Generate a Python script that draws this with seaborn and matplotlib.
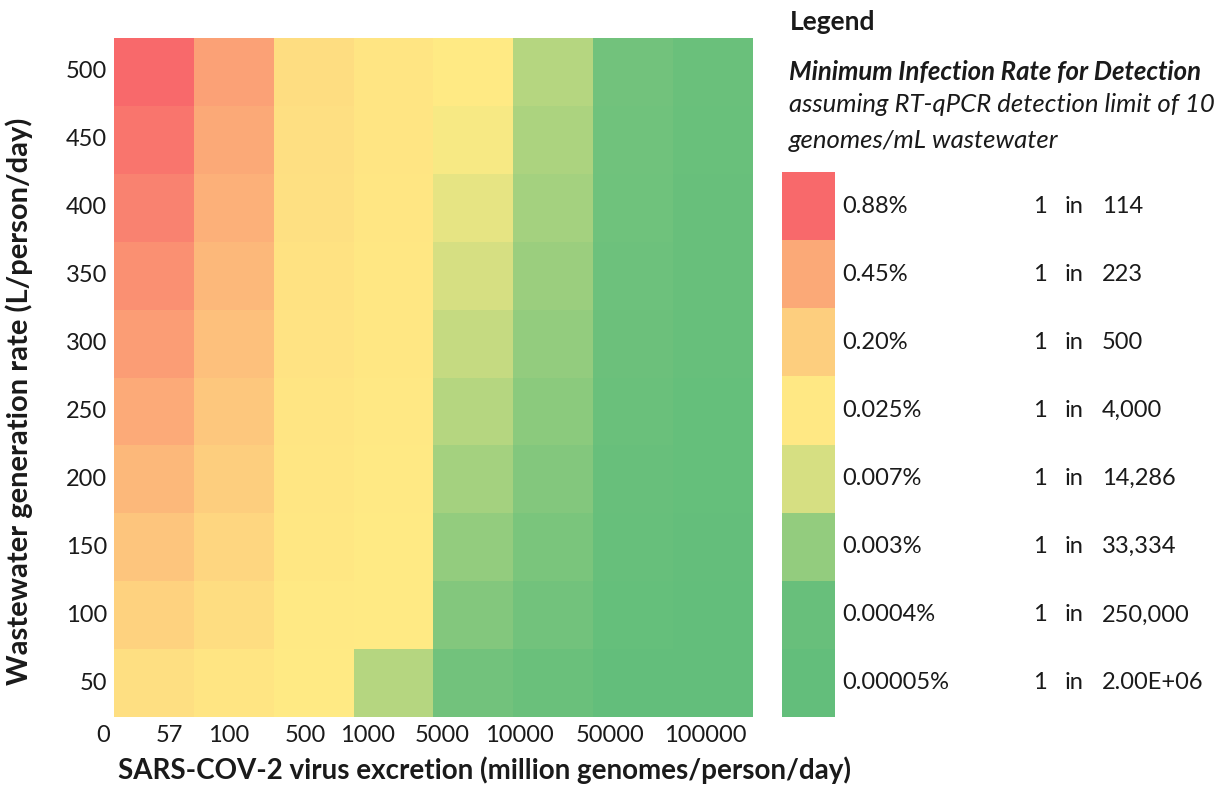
import numpy as np
import pandas as pd
import seaborn as sns
import matplotlib.pyplot as plt
import matplotlib.transforms as mtransforms
from matplotlib.colors import LinearSegmentedColormap, TwoSlopeNorm

# x categories: virus excretion (million genomes/person/day)
excretion = ['57', '100', '500', '1000', '5000', '10000', '50000', '100000']
origin_label = '0'
# y categories: wastewater generation rate (L/person/day)
wastewater = [500, 450, 400, 350, 300, 250, 200, 150, 100, 50]

# minimum infection rate for detection (%), one row per wastewater rate
rate_500 = [0.877, 0.50, 0.10, 0.050, 0.010, 0.0050, 0.0010, 0.00050]
rate_450 = [0.789, 0.45, 0.09, 0.045, 0.009, 0.0045, 0.0009, 0.00045]
rate_400 = [0.702, 0.40, 0.08, 0.040, 0.008, 0.0040, 0.0008, 0.00040]
rate_350 = [0.614, 0.35, 0.07, 0.035, 0.007, 0.0035, 0.0007, 0.00035]
rate_300 = [0.526, 0.30, 0.06, 0.030, 0.006, 0.0030, 0.0006, 0.00030]
rate_250 = [0.439, 0.25, 0.05, 0.025, 0.005, 0.0025, 0.0005, 0.00025]
rate_200 = [0.351, 0.20, 0.04, 0.020, 0.004, 0.0020, 0.0004, 0.00020]
rate_150 = [0.263, 0.15, 0.03, 0.015, 0.003, 0.0015, 0.0003, 0.00015]
rate_100 = [0.175, 0.10, 0.02, 0.010, 0.002, 0.0010, 0.0002, 0.00010]
rate_50 = [0.088, 0.05, 0.01, 0.005, 0.001, 0.0005, 0.0001, 0.00005]

# legend entries
legend_pct = [0.88, 0.45, 0.20, 0.025, 0.007, 0.003, 0.0004, 0.00005]
legend_pct_labels = ['0.88%', '0.45%', '0.20%', '0.025%', '0.007%', '0.003%', '0.0004%', '0.00005%']
legend_one_in = ['114', '223', '500', '4,000', '14,286', '33,334', '250,000', '2.00E+06']

sns.set_theme(style='white')
plt.rcParams['font.family'] = ['Lato', 'DejaVu Sans']
text_color = '#1a1a1a'

df = pd.DataFrame([rate_500, rate_450, rate_400, rate_350, rate_300,
                   rate_250, rate_200, rate_150, rate_100, rate_50],
                  index=wastewater, columns=excretion)

# excel style 3-colour scale: green (min) -> yellow (median) -> red (max)
cmap = LinearSegmentedColormap.from_list('rag', ['#63BE7B', '#FFEB84', '#F8696B'])
median = np.median(df.values)
norm = TwoSlopeNorm(vmin=df.values.min(), vcenter=median, vmax=df.values.max())

fig = plt.figure(figsize=(12.19, 7.87), dpi=100)
ax = fig.add_axes([0.0935, 0.0889, 0.5242, 0.8628])
sns.heatmap(df, ax=ax, cmap=cmap, norm=norm, cbar=False)

# tick labels, placed like the original
ax.set_xticks([0.69, 1.44, 2.40, 3.18, 4.11, 5.07, 6.21, 7.40])
ax.set_xticklabels(excretion, rotation=0)
ax.set_xlim(0, len(excretion))
ax.set_yticklabels([str(w) for w in wastewater], rotation=0)
ax.tick_params(axis='both', length=0, labelsize=17, colors=text_color)
ax.tick_params(axis='x', pad=6)
ax.tick_params(axis='y', pad=5)

# the "0" at the corner sits left of the first cell
ax.annotate(origin_label, xy=(-0.14, 0), xycoords=('data', 'axes fraction'),
            xytext=(0, -6), textcoords='offset points', ha='center', va='top',
            fontsize=17, color=text_color, annotation_clip=False)

ax.set_xlabel('SARS-COV-2 virus excretion (million genomes/person/day)',
              fontsize=20, fontweight='bold', color=text_color)
ax.set_ylabel('Wastewater generation rate (L/person/day)',
              fontsize=21, fontweight='bold', color=text_color)
ax.xaxis.label.set_verticalalignment('center')
ax.xaxis.set_label_coords(0.58, -0.078)
ax.yaxis.set_label_coords(-0.126, 0.465)

# legend drawn as a one-column heatmap
ax_leg = fig.add_axes([0.6415, 0.0889, 0.0435, 0.6925])
leg_df = pd.DataFrame({'pct': legend_pct})
sns.heatmap(leg_df, ax=ax_leg, cmap=cmap, norm=norm, cbar=False,
            xticklabels=False, yticklabels=False)
ax_leg.set_xlabel('')
ax_leg.set_ylabel('')

trans = mtransforms.blended_transform_factory(fig.transFigure, ax_leg.transData)
for i, (lab, n) in enumerate(zip(legend_pct_labels, legend_one_in)):
    y = i + 0.5
    ax_leg.text(0.6907, y, lab, transform=trans, va='center', ha='left', fontsize=17, color=text_color)
    ax_leg.text(0.8474, y, '1', transform=trans, va='center', ha='left', fontsize=17, color=text_color)
    ax_leg.text(0.8737, y, 'in', transform=trans, va='center', ha='left', fontsize=17, color=text_color)
    ax_leg.text(0.9040, y, n, transform=trans, va='center', ha='left', fontsize=17, color=text_color)

fig.text(0.648, 0.972, 'Legend', fontsize=19, fontweight='bold', va='center', color=text_color)
fig.text(0.647, 0.9085, 'Minimum Infection Rate for Detection', fontsize=18.5,
         fontweight='bold', fontstyle='italic', va='center', color=text_color)
fig.text(0.647, 0.8666, 'assuming RT-qPCR detection limit of 10', fontsize=18.5,
         fontstyle='italic', va='center', color=text_color)
fig.text(0.647, 0.822, 'genomes/mL wastewater', fontsize=18.5,
         fontstyle='italic', va='center', color=text_color)

fig.savefig('out.png', dpi=100, facecolor='white')
